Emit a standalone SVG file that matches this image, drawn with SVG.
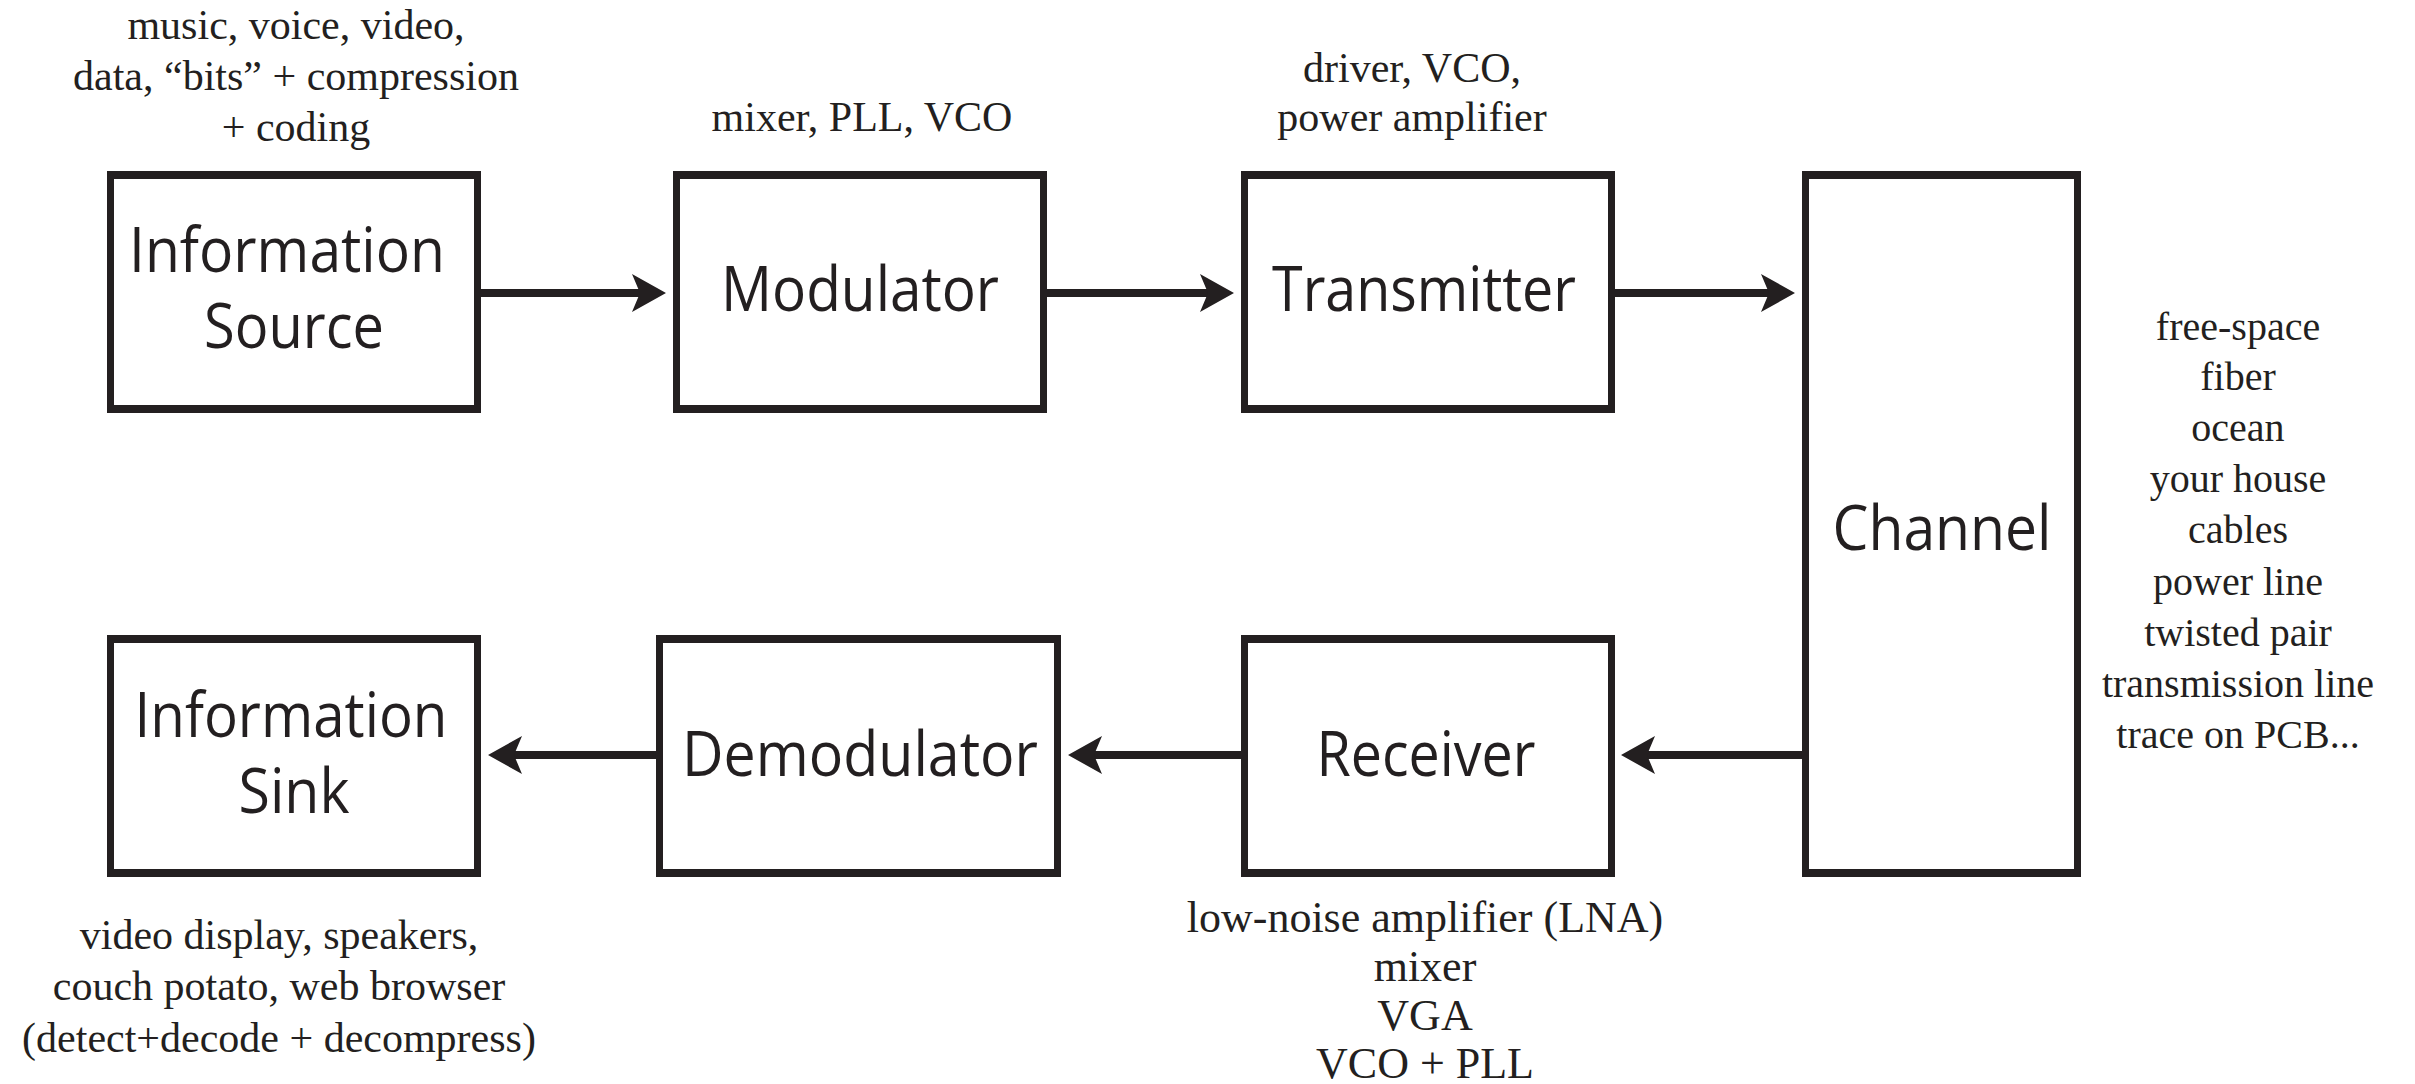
<svg xmlns="http://www.w3.org/2000/svg" width="2415" height="1084" viewBox="0 0 2415 1084">
<defs>
<style>
.ol{fill:#231f20}
.in{fill:#ffffff}
.bt{font-family:"Open Sans","Noto Sans",sans-serif;font-size:62px;fill:#231f20;text-anchor:middle}
.lb{font-family:"Liberation Serif","Times New Roman",serif;font-size:42px;fill:#231f20;text-anchor:middle}
.ch{font-size:40px}
.rx{font-size:44px}
.cn{stroke:#231f20;stroke-width:8;fill:none}
</style>
<marker id="ah" markerUnits="userSpaceOnUse" markerWidth="40" markerHeight="40" viewBox="0 -20 40 40" refX="8" refY="0" orient="auto">
<path d="M0,-19 L34,0 L0,19 L8,0 Z" fill="#231f20"/>
</marker>
</defs>
<rect width="2415" height="1084" fill="#ffffff"/>

<g id="connectors">
<line class="cn" x1="481" y1="293" x2="640" y2="293" marker-end="url(#ah)"/>
<line class="cn" x1="1047" y1="293" x2="1208" y2="293" marker-end="url(#ah)"/>
<line class="cn" x1="1615" y1="293" x2="1769" y2="293" marker-end="url(#ah)"/>
<line class="cn" x1="1802" y1="755" x2="1647" y2="755" marker-end="url(#ah)"/>
<line class="cn" x1="1241" y1="755" x2="1094" y2="755" marker-end="url(#ah)"/>
<line class="cn" x1="656" y1="755" x2="514" y2="755" marker-end="url(#ah)"/>
</g>

<g id="info-source">
<rect class="ol" x="107" y="171" width="374" height="242"/>
<rect class="in" x="114" y="179" width="360" height="226"/>
<text class="bt" x="287" y="272" textLength="316" lengthAdjust="spacingAndGlyphs">Information</text>
<text class="bt" x="294" y="348" textLength="180" lengthAdjust="spacingAndGlyphs">Source</text>
<text class="lb" x="296" y="39">music, voice, video,</text>
<text class="lb" x="296" y="90">data, “bits” + compression</text>
<text class="lb" x="296" y="141">+ coding</text>
</g>

<g id="modulator">
<rect class="ol" x="673" y="171" width="374" height="242"/>
<rect class="in" x="680" y="179" width="360" height="226"/>
<text class="bt" x="860" y="311" textLength="278" lengthAdjust="spacingAndGlyphs">Modulator</text>
<text class="lb" x="862" y="131">mixer, PLL, VCO</text>
</g>

<g id="transmitter">
<rect class="ol" x="1241" y="171" width="374" height="242"/>
<rect class="in" x="1248" y="179" width="360" height="226"/>
<text class="bt" x="1424" y="311" textLength="304" lengthAdjust="spacingAndGlyphs">Transmitter</text>
<text class="lb" x="1412" y="82">driver, VCO,</text>
<text class="lb" x="1412" y="131">power amplifier</text>
</g>

<g id="channel">
<rect class="ol" x="1802" y="171" width="279" height="706"/>
<rect class="in" x="1809" y="179" width="265" height="690"/>
<text class="bt" x="1942" y="550" textLength="219" lengthAdjust="spacingAndGlyphs">Channel</text>
<text class="lb ch" x="2238" y="340">free-space</text>
<text class="lb ch" x="2238" y="390">fiber</text>
<text class="lb ch" x="2238" y="441">ocean</text>
<text class="lb ch" x="2238" y="492">your house</text>
<text class="lb ch" x="2238" y="543">cables</text>
<text class="lb ch" x="2238" y="595">power line</text>
<text class="lb ch" x="2238" y="646">twisted pair</text>
<text class="lb ch" x="2238" y="697">transmission line</text>
<text class="lb ch" x="2238" y="748">trace on PCB...</text>
</g>

<g id="info-sink">
<rect class="ol" x="107" y="635" width="374" height="242"/>
<rect class="in" x="114" y="643" width="360" height="226"/>
<text class="bt" x="291" y="737" textLength="313" lengthAdjust="spacingAndGlyphs">Information</text>
<text class="bt" x="294" y="813" textLength="111" lengthAdjust="spacingAndGlyphs">Sink</text>
<text class="lb" x="279" y="949">video display, speakers,</text>
<text class="lb" x="279" y="1000">couch potato, web browser</text>
<text class="lb" x="279" y="1052">(detect+decode + decompress)</text>
</g>

<g id="demodulator">
<rect class="ol" x="656" y="635" width="405" height="242"/>
<rect class="in" x="663" y="643" width="391" height="226"/>
<text class="bt" x="860" y="776" textLength="356" lengthAdjust="spacingAndGlyphs">Demodulator</text>
</g>

<g id="receiver">
<rect class="ol" x="1241" y="635" width="374" height="242"/>
<rect class="in" x="1248" y="643" width="360" height="226"/>
<text class="bt" x="1426" y="776" textLength="219" lengthAdjust="spacingAndGlyphs">Receiver</text>
<text class="lb rx" x="1425" y="932">low-noise amplifier (LNA)</text>
<text class="lb rx" x="1425" y="981">mixer</text>
<text class="lb rx" x="1425" y="1030">VGA</text>
<text class="lb rx" x="1425" y="1078">VCO + PLL</text>
</g>
</svg>
